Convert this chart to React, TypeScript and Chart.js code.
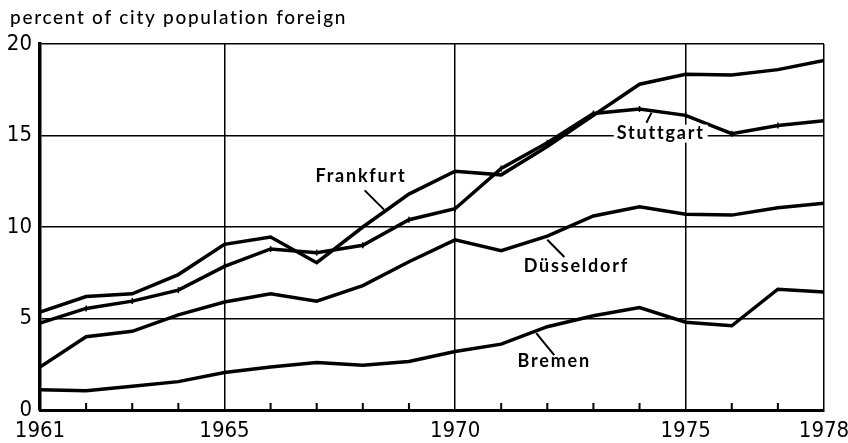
import React, { useEffect, useRef } from "react";
import { Chart, registerables } from "chart.js";
Chart.register(...registerables);

const years = [1961,1962,1963,1964,1965,1966,1967,1968,1969,1970,1971,1972,1973,1974,1975,1976,1977,1978];
const frankfurt = [5.35,6.2,6.35,7.4,9.05,9.45,8.05,10.0,11.8,13.05,12.85,14.4,16.1,17.8,18.35,18.3,18.6,19.1];
const stuttgart = [4.75,5.55,5.95,6.55,7.85,8.8,8.6,9.0,10.4,11.0,13.2,14.6,16.2,16.45,16.1,15.1,15.55,15.8];
const duesseldorf = [2.35,4.0,4.3,5.2,5.9,6.35,5.95,6.8,8.1,9.3,8.7,9.5,10.6,11.1,10.7,10.65,11.05,11.3];
const bremen = [1.1,1.05,1.3,1.55,2.05,2.35,2.6,2.45,2.65,3.2,3.6,4.55,5.15,5.6,4.8,4.6,6.6,6.45];
const yTicks = [0,5,10,15,20];
const xLabelYears = [1961,1965,1970,1975,1978];
const gridYears = [1965,1970,1975,1978];
const title = "percent of city population foreign";

const cityLabels = [
  { text: "Frankfurt", x: 1967.96, y: 12.8, lead: [1968.04, 12.0, 1968.46, 10.95], bg: false },
  { text: "Stuttgart", x: 1974.46, y: 15.1, lead: [1974.15, 15.7, 1974.26, 16.25], bg: true },
  { text: "Düsseldorf", x: 1972.63, y: 7.87, lead: [1972.0, 9.3, 1972.37, 8.36], bg: false },
  { text: "Bremen", x: 1972.15, y: 2.68, lead: [1971.76, 4.2, 1972.15, 3.0], bg: false },
];

const NUM_FONT = "'Liberation Sans Narrow', 'DejaVu Sans Condensed', Arial, sans-serif";
const LBL_FONT = "Lato, 'Open Sans', sans-serif";

const overlay = {
  id: "overlay",
  afterDraw(chart: any) {
    const ctx = chart.ctx;
    const xs = chart.scales.x;
    const ys = chart.scales.y;
    const bottom = chart.chartArea.bottom;
    ctx.save();
    // title
    ctx.fillStyle = "#000";
    ctx.font = "500 19px " + LBL_FONT;
    (ctx as any).letterSpacing = "1.7px";
    ctx.textAlign = "left";
    ctx.textBaseline = "alphabetic";
    ctx.fillText(title, 10, 24);
    // minor ticks
    ctx.strokeStyle = "#000";
    ctx.lineWidth = 2;
    years.forEach((yr) => {
      if (gridYears.includes(yr) || yr === years[0]) return;
      const px = xs.getPixelForValue(yr);
      ctx.beginPath();
      ctx.moveTo(px, bottom);
      ctx.lineTo(px, bottom - 7);
      ctx.stroke();
    });
    // city labels
    ctx.font = "bold 18px " + LBL_FONT;
    (ctx as any).letterSpacing = "1.8px";
    ctx.textAlign = "center";
    ctx.textBaseline = "middle";
    cityLabels.forEach((l) => {
      const px = xs.getPixelForValue(l.x);
      const py = ys.getPixelForValue(l.y);
      if (l.bg) {
        const w = ctx.measureText(l.text).width;
        ctx.fillStyle = "#fff";
        ctx.fillRect(px - w / 2 - 3, py - 9, w + 6, 18);
      }
      ctx.fillStyle = "#000";
      ctx.fillText(l.text, px, py);
      ctx.lineWidth = 2;
      ctx.beginPath();
      ctx.moveTo(xs.getPixelForValue(l.lead[0]), ys.getPixelForValue(l.lead[1]));
      ctx.lineTo(xs.getPixelForValue(l.lead[2]), ys.getPixelForValue(l.lead[3]));
      ctx.stroke();
    });
    ctx.restore();
  },
};

export default function App() {
  const ref = useRef<HTMLCanvasElement>(null);
  useEffect(() => {
    document.body.style.margin = "0";
    const mk = (label: string, data: number[], markers = false) => ({
      label,
      data: years.map((y, i) => ({ x: y, y: data[i] })),
      borderColor: "#000",
      backgroundColor: "#000",
      borderWidth: 3.5,
      pointRadius: markers ? 3 : 0,
      pointStyle: "line",
      pointRotation: 90,
      pointBorderWidth: 1.5,
      tension: 0,
    });
    const chart = new Chart(ref.current!, {
      type: "line",
      data: {
        datasets: [
          mk("Frankfurt", frankfurt),
          mk("Stuttgart", stuttgart, true),
          mk("Düsseldorf", duesseldorf),
          mk("Bremen", bremen),
        ],
      },
      options: {
        animation: false,
        responsive: false,
        maintainAspectRatio: false,
        layout: { padding: { top: 44, right: 24, left: 0, bottom: 0 } },
        plugins: { legend: { display: false }, tooltip: { enabled: false }, title: { display: false } },
        scales: {
          x: {
            type: "linear",
            min: years[0],
            max: years[years.length - 1],
            afterBuildTicks: (s: any) => {
              s.ticks = years.map((v) => ({ value: v }));
            },
            afterFit: (s: any) => {
              s.height = 33;
              s.paddingRight = 0;
              s.paddingLeft = 0;
            },
            ticks: {
              autoSkip: false,
              maxRotation: 0,
              padding: 8,
              color: "#000",
              font: { family: NUM_FONT, size: 22 },
              callback: (v: any) => (xLabelYears.includes(v) ? String(v) : ""),
            },
            grid: {
              drawTicks: false,
              color: (c: any) => (gridYears.includes(c.tick?.value) ? "#000" : "rgba(0,0,0,0)"),
              lineWidth: 1.5,
            },
            border: { display: true, color: "#000", width: 3 },
          },
          y: {
            min: 0,
            max: 20,
            afterBuildTicks: (s: any) => {
              s.ticks = yTicks.map((v) => ({ value: v }));
            },
            afterFit: (s: any) => {
              s.width = 40;
              s.paddingTop = 0;
              s.paddingBottom = 0;
            },
            ticks: {
              padding: 8,
              color: "#000",
              font: { family: NUM_FONT, size: 22 },
            },
            grid: { drawTicks: false, color: "#000", lineWidth: 1.5 },
            border: { display: true, color: "#000", width: 3.5 },
          },
        },
      },
      plugins: [overlay],
    } as any);
    return () => chart.destroy();
  }, []);
  return (
    <div style={{ width: 848, height: 443, background: "#fff" }}>
      <canvas ref={ref} width={848} height={443} style={{ display: "block" }} />
    </div>
  );
}
